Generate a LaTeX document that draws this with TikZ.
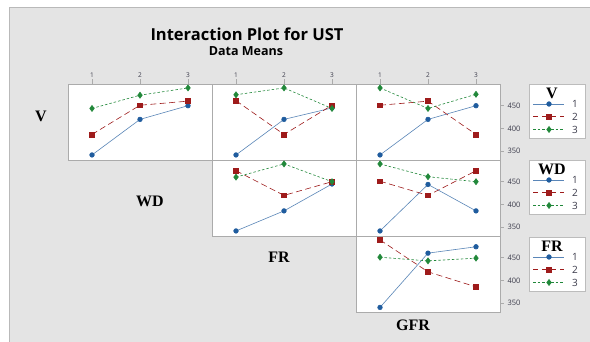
\documentclass[tikz,border=0pt]{standalone}
\usepackage{fontspec}
\setmainfont{Liberation Serif}
\setsansfont{Open Sans}
\usetikzlibrary{plotmarks}

\definecolor{bggray}{HTML}{E4E4E4}
\definecolor{framegray}{HTML}{ABABAB}
\definecolor{oneblue}{HTML}{1F5C9E}
\definecolor{oneline}{HTML}{5A86B8}
\definecolor{twored}{HTML}{9E1B1B}
\definecolor{threegreen}{HTML}{21883A}
\definecolor{ticktext}{HTML}{3A3A4A}

\tikzset{
  panel/.style={fill=white, draw=framegray, line width=0.8pt},
  lvone/.style={oneline, line width=0.6pt, mark=*, mark size=2.3pt,
    mark options={solid, fill=oneblue, draw=oneblue}},
  lvtwo/.style={twored, line width=0.6pt, dash pattern=on 6pt off 3.5pt,
    mark=square*, mark size=2.4pt, mark options={solid, fill=twored, draw=twored}},
  lvthree/.style={threegreen, line width=0.6pt, dash pattern=on 2.5pt off 2pt,
    mark=diamond*, mark size=3pt, mark options={solid, fill=threegreen, draw=threegreen}},
  rowlab/.style={font=\bfseries\fontsize{16}{16}\selectfont},
  ticklab/.style={font=\sffamily\fontsize{6.5}{6.5}\selectfont, text=ticktext},
  axlab/.style={font=\sffamily\fontsize{7.5}{7.5}\selectfont, text=ticktext},
  legbox/.style={fill=white, draw=framegray!80, line width=0.8pt},
  legtitle/.style={font=\bfseries\fontsize{16}{16}\selectfont},
  legnum/.style={font=\sffamily\fontsize{10}{10}\selectfont, text=ticktext},
}

% one line of an interaction panel: style, left, top, three means
\newcommand{\iaseries}[6]{%
  \pgfmathsetmacro\ya{#3+226.9-0.456*#4}%
  \pgfmathsetmacro\yb{#3+226.9-0.456*#5}%
  \pgfmathsetmacro\yc{#3+226.9-0.456*#6}%
  \draw[#1] plot coordinates {(#2+24,\ya) (#2+72,\yb) (#2+120,\yc)};%
}

% legend box: top, title
\newcommand{\ialegend}[2]{%
  \draw[legbox] (529,#1) rectangle (585,#1+54);
  \node[legtitle] (leg#2) at (552,#1+9) {#2};
  \draw[lvone, mark=none] (533,#1+20) -- (564,#1+20);
  \draw[lvone] plot coordinates {(549,#1+20)};
  \draw[lvtwo, mark=none, dash pattern=on 5pt off 4pt] (533,#1+32.7) -- (564,#1+32.7);
  \draw[lvtwo] plot coordinates {(549,#1+32.7)};
  \draw[lvthree, mark=none] (533,#1+45.5) -- (564,#1+45.5);
  \draw[lvthree] plot coordinates {(549,#1+45.5)};
  \node[legnum] (leg#2a) at (575,#1+20) {1};
  \node[legnum] (leg#2b) at (575,#1+32.7) {2};
  \node[legnum] (leg#2c) at (575,#1+45.5) {3};
}

\begin{document}
\begin{tikzpicture}[x=1pt, y=-1pt]
    \useasboundingbox (0,0) rectangle (590,342);
    \fill[white] (0,0) rectangle (590,342);
    \fill[bggray] (9.5,7) rectangle (590,342);
    \draw[gray!55, line width=0.8pt] (9.5,342) -- (9.5,7) -- (590,7);

    % titles
    \node[font=\sffamily\bfseries\fontsize{16.5}{16.5}\selectfont] (title) at (247,34) {Interaction Plot for UST};
    \node[font=\sffamily\bfseries\fontsize{12.5}{12.5}\selectfont] (subtitle) at (246,51) {Data Means};

    % panels
    \draw[panel] (68,84) rectangle (212,160);
    \draw[panel] (212,84) rectangle (356,160);
    \draw[panel] (356,84) rectangle (500,160);
    \draw[panel] (212,160) rectangle (356,236);
    \draw[panel] (356,160) rectangle (500,236);
    \draw[panel] (356,236) rectangle (500,312);

    % top scale
    \foreach \c in {68,212,356} {
        \foreach \i/\dx in {1/24,2/72,3/120} {
            \draw[framegray, line width=0.6pt] (\c+\dx,79.5) -- (\c+\dx,84);
            \node[ticklab] (top\c\i) at (\c+\dx,75) {\i};
        }
    }

    % right scale
    \foreach \r in {84,160,236} {
        \foreach \v in {350,400,450} {
            \draw[framegray, line width=0.6pt] (500,\r+226.9-0.456*\v) -- (504,\r+226.9-0.456*\v);
            \node[axlab] (ax\r\v) at (514,\r+226.9-0.456*\v) {\v};
        }
    }

    % V row
    \iaseries{lvone}{68}{84}{342}{420}{450}
    \iaseries{lvtwo}{68}{84}{387}{451}{460}
    \iaseries{lvthree}{68}{84}{444}{473}{489}

    \iaseries{lvone}{212}{84}{342}{420}{445}
    \iaseries{lvtwo}{212}{84}{461}{387}{451}
    \iaseries{lvthree}{212}{84}{474}{489}{444}

    \iaseries{lvone}{356}{84}{342}{420}{450}
    \iaseries{lvtwo}{356}{84}{451}{460}{387}
    \iaseries{lvthree}{356}{84}{489}{444}{475}

    % WD row
    \iaseries{lvone}{212}{160}{342}{386}{445}
    \iaseries{lvtwo}{212}{160}{474}{420}{450}
    \iaseries{lvthree}{212}{160}{460}{489}{450}

    \iaseries{lvone}{356}{160}{342}{444}{386}
    \iaseries{lvtwo}{356}{160}{451}{420}{474}
    \iaseries{lvthree}{356}{160}{489}{461}{450}

    % FR row
    \iaseries{lvone}{356}{236}{341}{460}{474}
    \iaseries{lvtwo}{356}{236}{489}{419}{386}
    \iaseries{lvthree}{356}{236}{451}{443}{449}

    % factor names
    \node[rowlab] (labV) at (41,116) {V};
    \node[rowlab] (labWD) at (150,201) {WD};
    \node[rowlab] (labFR) at (279,257) {FR};
    \node[rowlab] (labGFR) at (413,325) {GFR};

    % legends
    \ialegend{84}{V}
    \ialegend{160}{WD}
    \ialegend{237}{FR}
\end{tikzpicture}
\end{document}
